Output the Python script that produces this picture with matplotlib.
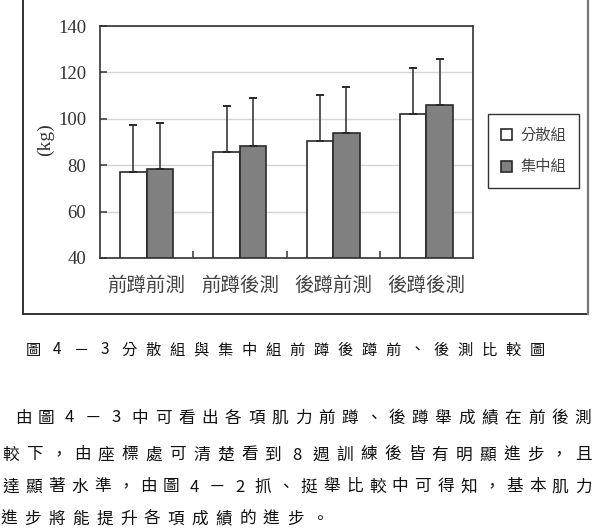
import numpy as np
import matplotlib
matplotlib.use('Agg')
import matplotlib.pyplot as plt
from matplotlib.patches import Patch

plt.rcParams['font.family'] = ['Noto Sans CJK TC', 'DejaVu Sans']

# data
categories = ['前蹲前測', '前蹲後測', '後蹲前測', '後蹲後測']
groups = ['分散組', '集中組']
mean_spread = [76.9, 85.6, 90.4, 102.1]
sd_spread = [20.4, 19.9, 19.9, 19.8]
mean_focus = [78.2, 88.4, 93.8, 105.8]
sd_focus = [20.0, 20.4, 19.9, 20.0]
y_ticks = [40, 60, 80, 100, 120, 140]

caption = '圖4－3分散組與集中組前蹲後蹲前、後測比較圖'
paragraph = [
    '由圖4－3中可看出各項肌力前蹲、後蹲舉成績在前後測',
    '較下，由座標處可清楚看到8週訓練後皆有明顯進步，且',
    '達顯著水準，由圖4－2抓、挺舉比較中可得知，基本肌力',
    '進步將能提升各項成績的進步。',
]

W, H = 594, 530
fig = plt.figure(figsize=(W / 100, H / 100), dpi=100)
fig.patch.set_facecolor('white')

ax = fig.add_axes([100 / W, 1 - 258 / H, 373 / W, 232 / H])

x = np.arange(len(categories))
w = 0.284
edge = '#2a2a2a'
ax.bar(x - w / 2, np.array(mean_spread) - 40, w, bottom=40, color='white',
       edgecolor=edge, linewidth=1.2, zorder=3)
ax.bar(x + w / 2, np.array(mean_focus) - 40, w, bottom=40, color='#808080',
       edgecolor=edge, linewidth=1.2, zorder=3)
ax.errorbar(x - w / 2, mean_spread, yerr=[np.zeros(4), sd_spread], fmt='none',
            ecolor=edge, elinewidth=1.1, capsize=2.6, capthick=1.4, zorder=4)
ax.errorbar(x + w / 2, mean_focus, yerr=[np.zeros(4), sd_focus], fmt='none',
            ecolor=edge, elinewidth=1.1, capsize=2.6, capthick=1.4, zorder=4)

ax.set_xlim(-0.5, 3.5)
ax.set_ylim(40, 140)
ax.set_yticks(y_ticks)
ax.set_yticklabels([str(v) for v in y_ticks], family='Liberation Serif',
                   fontsize=13.5, color='#333333')
ax.yaxis.grid(True, color='#d4d4d4', linewidth=1)
ax.set_axisbelow(True)
ax.tick_params(axis='y', direction='in', length=5, width=1.1, pad=10,
               color='#333333')

ax.set_xticks(x)
ax.set_xticklabels(categories, fontsize=14, color='#444444')
ax.set_xticks([0.5, 1.5, 2.5], minor=True)
ax.tick_params(axis='x', which='major', length=0, pad=12)
ax.tick_params(axis='x', which='minor', direction='in', length=5, width=1.1,
               color='#333333')
for s in ax.spines.values():
    s.set_color('#333333')
    s.set_linewidth(1.2)

fig.text(45 / W, 1 - 140 / H, '(kg)', rotation=90, ha='center', va='center',
         family='Liberation Serif', fontsize=14, color='#333333')

handles = [Patch(facecolor='white', edgecolor=edge, linewidth=1.2),
           Patch(facecolor='#808080', edgecolor=edge, linewidth=1.2)]
leg = fig.legend(handles, groups, loc='upper left',
                 bbox_to_anchor=(488 / W, 1 - 114 / H),
                 bbox_transform=fig.transFigure, fontsize=11,
                 handlelength=0.75, handleheight=0.75, handletextpad=0.5,
                 labelspacing=0.95, borderpad=0.85, fancybox=False,
                 framealpha=1, edgecolor='#333333', borderaxespad=0)
leg.get_frame().set_linewidth(1.0)
for t in leg.get_texts():
    t.set_color('#444444')

# scanned page frame around the chart
fb = 1 - 314 / H
fig.add_artist(plt.Line2D([23 / W, 23 / W], [1.01, fb], transform=fig.transFigure,
                          color='#333333', lw=1.4))
fig.add_artist(plt.Line2D([23 / W, 588 / W], [fb, fb], transform=fig.transFigure,
                          color='#333333', lw=1.4))
fig.add_artist(plt.Line2D([588 / W, 588 / W], [1.01, fb], transform=fig.transFigure,
                          color='#777777', lw=1.6))


def draw_line(s, x0, x1, y, size):
    pitch = (x1 - x0) / (len(s) - 1)
    for i, ch in enumerate(s):
        fig.text((x0 + i * pitch) / W, 1 - y / H, ch, ha='center', va='center',
                 fontsize=size, color='#111111')


draw_line(caption, 33, 537, 350, 11)
draw_line(paragraph[0], 23, 583, 418, 12)
draw_line(paragraph[1], 11, 583, 455, 12)
draw_line(paragraph[2], 11, 583, 487, 12)
draw_line(paragraph[3], 9, 319, 519, 12)

fig.savefig('out.png', dpi=100, facecolor='white')
